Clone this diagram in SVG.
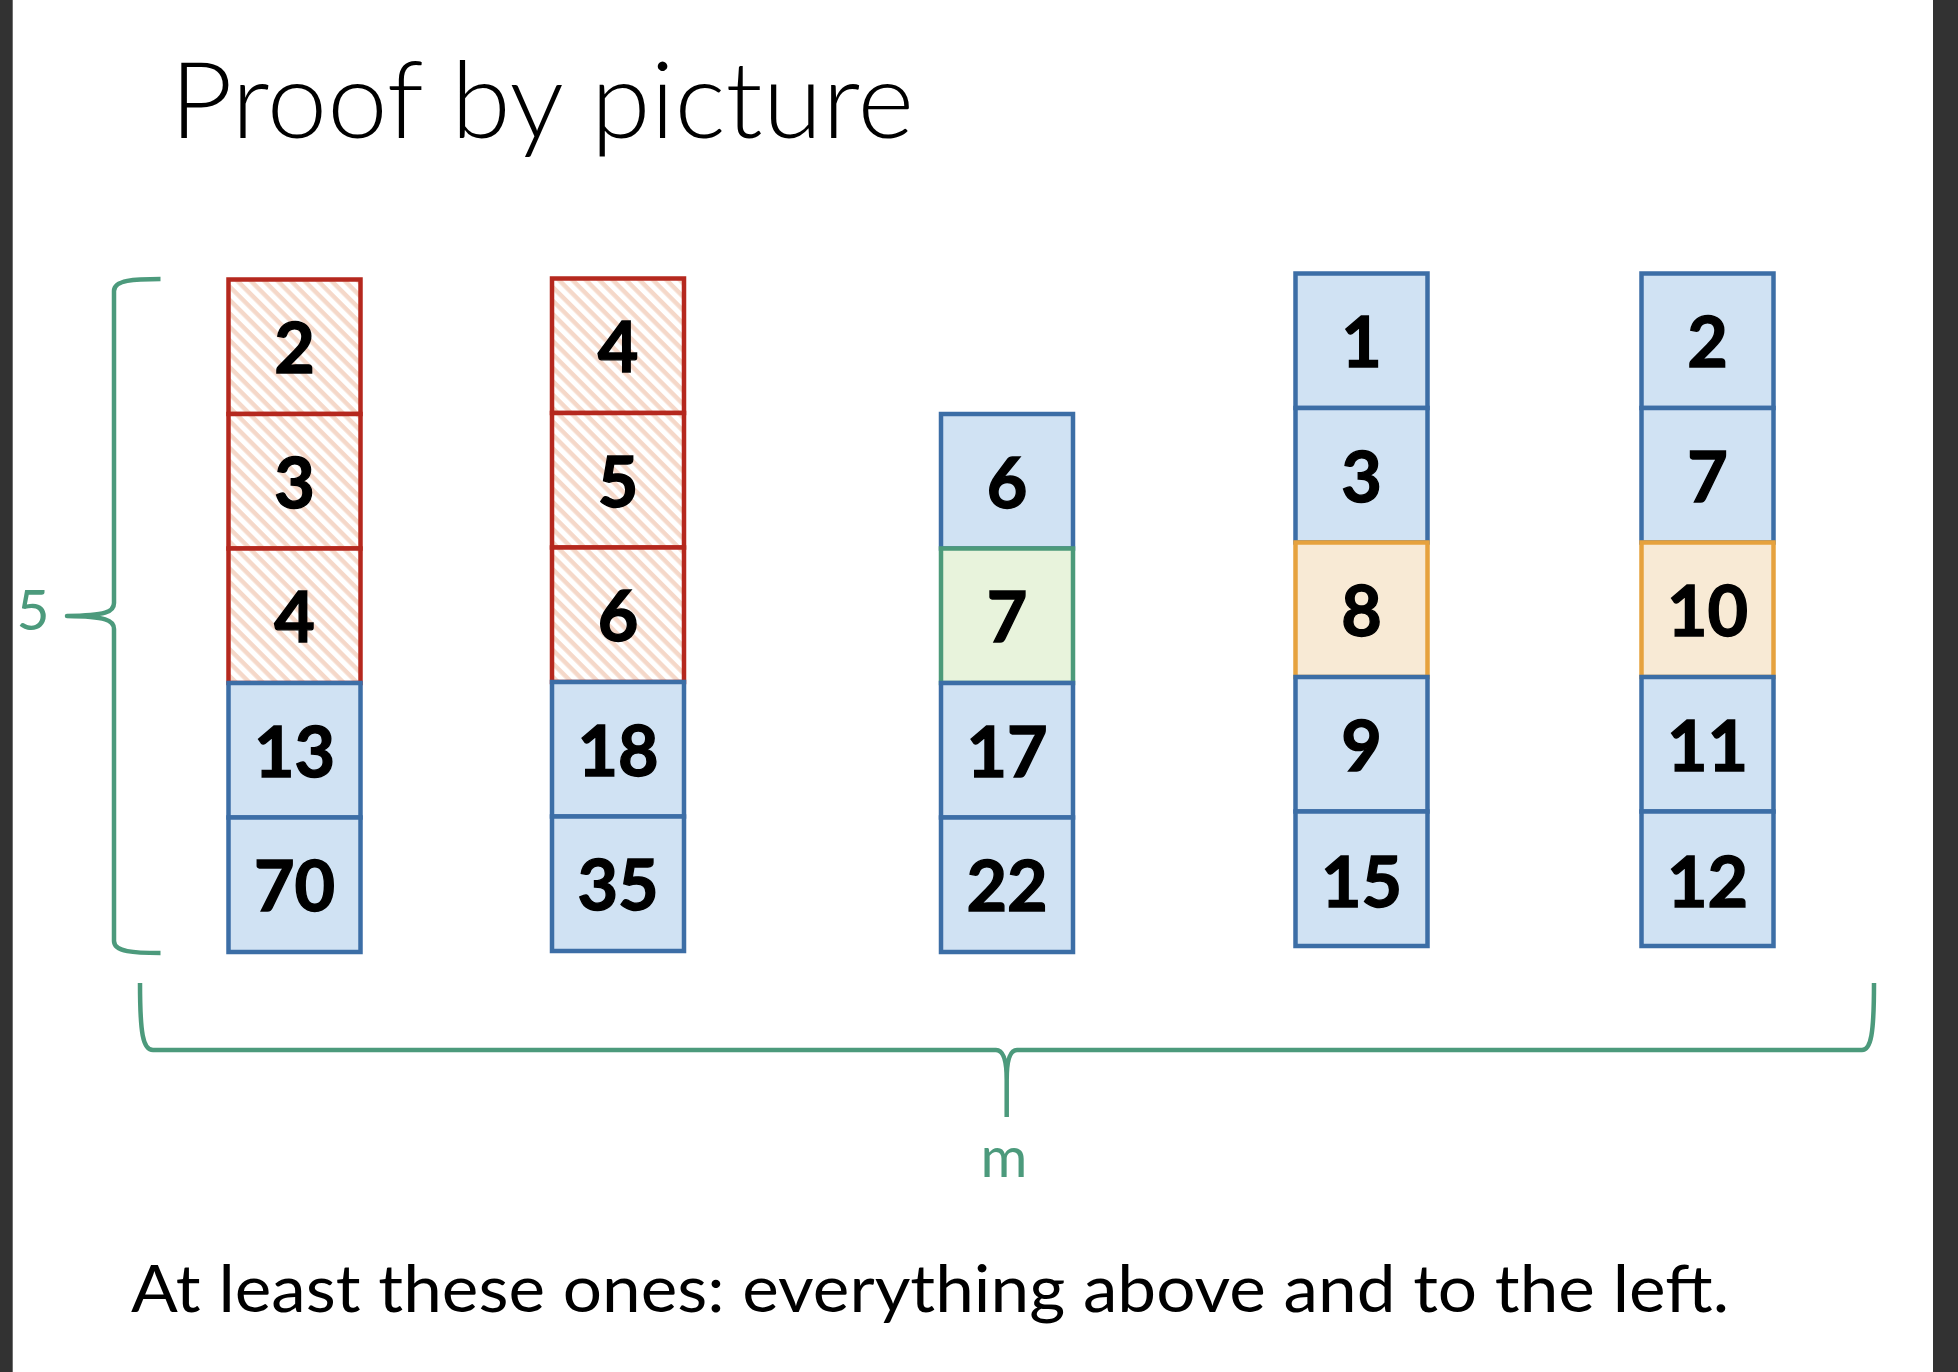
<svg xmlns="http://www.w3.org/2000/svg" width="1958" height="1372" viewBox="0 0 1958 1372">
  <style>
    .cell { stroke-width: 4.5; }
    .blue { fill: #D0E2F3; stroke: #3C6EA6; }
    .red { fill: url(#hatch); stroke: #B5281E; }
    .green { fill: #E8F3DC; stroke: #4C9A7A; }
    .orange { fill: #F8EAD5; stroke: #E6A23E; }
    .num { font-family: Lato, "Open Sans", "Liberation Sans", sans-serif; font-weight: 700; font-size: 70px; text-anchor: middle; fill: #000; stroke: #000; stroke-width: 1.4; }
    .brace { fill: none; stroke: #4C9A7C; stroke-width: 4.5; stroke-linejoin: round; }
    .lbl { font-family: Lato, "Open Sans", "Liberation Sans", sans-serif; font-size: 57px; fill: #4C9A7C; text-anchor: middle; }
    .txt { font-family: Lato, "Open Sans", "Liberation Sans", sans-serif; fill: #000; }
  </style>
  <defs>
    <pattern id="hatch" patternUnits="userSpaceOnUse" width="9.5" height="9.5" patternTransform="rotate(45)">
      <rect x="0" y="0" width="9.5" height="9.5" fill="#FFFFFF"/>
      <rect x="0" y="0" width="9.5" height="4.4" fill="#F5D8C9"/>
    </pattern>
  </defs>

  <rect x="0" y="0" width="1958" height="1372" fill="#FFFFFF"/>
  <rect x="0" y="0" width="12.7" height="1372" fill="#323232"/>
  <rect x="1933" y="0" width="25" height="1372" fill="#323232"/>

  <text class="txt" x="170" y="138" font-size="106" font-weight="300" textLength="744" lengthAdjust="spacingAndGlyphs">Proof by picture</text>

  <g id="col1">
    <g id="c1-2"><rect class="cell red" x="228.5" y="279.5" width="132" height="134.5"/><text class="num" x="294.5" y="373.25">2</text></g>
    <g id="c1-3"><rect class="cell red" x="228.5" y="414" width="132" height="134.5"/><text class="num" x="294.5" y="507.75">3</text></g>
    <g id="c1-4"><rect class="cell red" x="228.5" y="548.5" width="132" height="134.5"/><text class="num" x="294.5" y="642.25">4</text></g>
    <g id="c1-13"><rect class="cell blue" x="228.5" y="683" width="132" height="134.5"/><text class="num" x="294.5" y="776.75">13</text></g>
    <g id="c1-70"><rect class="cell blue" x="228.5" y="817.5" width="132" height="134.5"/><text class="num" x="294.5" y="911.25">70</text></g>
  </g>

  <g id="col2">
    <g id="c2-4"><rect class="cell red" x="552" y="278.5" width="132" height="134.5"/><text class="num" x="618" y="372.25">4</text></g>
    <g id="c2-5"><rect class="cell red" x="552" y="413" width="132" height="134.5"/><text class="num" x="618" y="506.75">5</text></g>
    <g id="c2-6"><rect class="cell red" x="552" y="547.5" width="132" height="134.5"/><text class="num" x="618" y="641.25">6</text></g>
    <g id="c2-18"><rect class="cell blue" x="552" y="682" width="132" height="134.5"/><text class="num" x="618" y="775.75">18</text></g>
    <g id="c2-35"><rect class="cell blue" x="552" y="816.5" width="132" height="134.5"/><text class="num" x="618" y="910.25">35</text></g>
  </g>

  <g id="col3">
    <g id="c3-6"><rect class="cell blue" x="941" y="414" width="132" height="134.5"/><text class="num" x="1007" y="507.75">6</text></g>
    <g id="c3-7"><rect class="cell green" x="941" y="548.5" width="132" height="134.5"/><text class="num" x="1007" y="642.25">7</text></g>
    <g id="c3-17"><rect class="cell blue" x="941" y="683" width="132" height="134.5"/><text class="num" x="1007" y="776.75">17</text></g>
    <g id="c3-22"><rect class="cell blue" x="941" y="817.5" width="132" height="134.5"/><text class="num" x="1007" y="911.25">22</text></g>
  </g>

  <g id="col4">
    <g id="c4-1"><rect class="cell blue" x="1295.5" y="273.5" width="132" height="134.5"/><text class="num" x="1361.5" y="367.25">1</text></g>
    <g id="c4-3"><rect class="cell blue" x="1295.5" y="408" width="132" height="134.5"/><text class="num" x="1361.5" y="501.75">3</text></g>
    <g id="c4-8"><rect class="cell orange" x="1295.5" y="542.5" width="132" height="134.5"/><text class="num" x="1361.5" y="636.25">8</text></g>
    <g id="c4-9"><rect class="cell blue" x="1295.5" y="677" width="132" height="134.5"/><text class="num" x="1361.5" y="770.75">9</text></g>
    <g id="c4-15"><rect class="cell blue" x="1295.5" y="811.5" width="132" height="134.5"/><text class="num" x="1361.5" y="906.5">15</text></g>
  </g>

  <g id="col5">
    <g id="c5-2"><rect class="cell blue" x="1641.5" y="273.5" width="132" height="134.5"/><text class="num" x="1707.5" y="367.25">2</text></g>
    <g id="c5-7"><rect class="cell blue" x="1641.5" y="408" width="132" height="134.5"/><text class="num" x="1707.5" y="501.75">7</text></g>
    <g id="c5-10"><rect class="cell orange" x="1641.5" y="542.5" width="132" height="134.5"/><text class="num" x="1707.5" y="636.25">10</text></g>
    <g id="c5-11"><rect class="cell blue" x="1641.5" y="677" width="132" height="134.5"/><text class="num" x="1707.5" y="770.75">11</text></g>
    <g id="c5-12"><rect class="cell blue" x="1641.5" y="811.5" width="132" height="134.5"/><text class="num" x="1707.5" y="906.5">12</text></g>
  </g>

  <g id="connectors">
    <path class="brace" d="M160.5,279 C134,279 114,280 114,291 L114,603 C114,612 106,615.5 67,616 C106,616.5 114,620 114,629 L114,941 C114,952 134,953 160.5,953"/>
    <path class="brace" d="M140,983 C140,1034 143,1050 153,1050 L996,1050 C1003,1050 1006.7,1060 1006.7,1080 L1006.7,1117 M1006.7,1080 C1006.7,1060 1010,1050 1017,1050 L1862,1050 C1871,1050 1874,1034 1874,983"/>
  </g>

  <text class="lbl" x="33" y="630">5</text>
  <text class="lbl" x="1004" y="1177">m</text>

  <text class="txt" x="131" y="1312" font-size="65" textLength="1598" lengthAdjust="spacingAndGlyphs">At least these ones: everything above and to the left.</text>
</svg>
